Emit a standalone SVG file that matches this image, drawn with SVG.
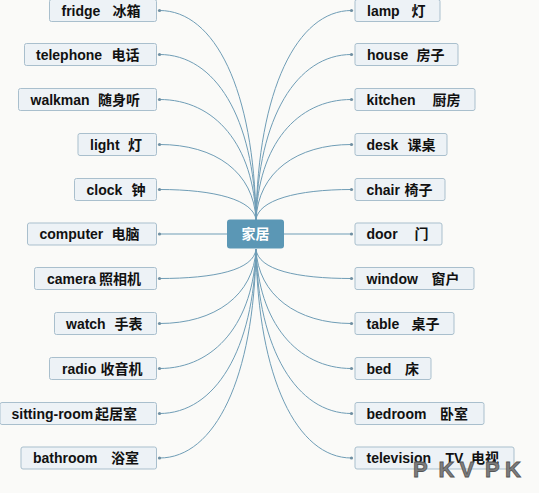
<svg xmlns="http://www.w3.org/2000/svg" width="539" height="493" viewBox="0 0 539 493">
<style>
.bg{fill:#fafaf8}
.box{fill:#edf2f6;stroke:#a9bfcd;stroke-width:1}
.t{font-family:"Liberation Sans","Noto Sans CJK SC",sans-serif;font-size:14px;font-weight:bold;fill:#111}
.c{font-family:"Noto Sans CJK SC","Liberation Sans",sans-serif;font-size:14px;font-weight:bold}
.ln{fill:none;stroke:#6f9db6;stroke-width:1}
.dot{fill:#6f8fa2}
.center{fill:#5b97b5}
.ct{font-family:"Noto Sans CJK SC","Liberation Sans",sans-serif;font-size:14px;font-weight:bold;fill:#fff}
.wm{font-family:"Liberation Sans",sans-serif;font-size:22px;font-weight:bold;fill:#7d7d7d;stroke:#555;stroke-width:0.8}
</style>
<rect class="bg" x="0" y="0" width="539" height="493"/>
<g id="connectors">
<path class="ln" d="M159.5,10.5 C215,10.5 254,90 256,220"/>
<path class="ln" d="M159.5,54.5 C215,54.5 254,117 256,220"/>
<path class="ln" d="M159.5,99.5 C215,99.5 254,145 256,220"/>
<path class="ln" d="M159.5,144.5 C215,144.5 254,172 256,220"/>
<path class="ln" d="M159.5,189.5 C215,189.5 254,200 256,220"/>
<path class="ln" d="M159.5,234 L227,234"/>
<path class="ln" d="M159.5,278.5 C215,278.5 254,270 256,249"/>
<path class="ln" d="M159.5,323.5 C215,323.5 254,295 256,249"/>
<path class="ln" d="M159.5,368.5 C215,368.5 254,322 256,249"/>
<path class="ln" d="M159.5,413.5 C215,413.5 254,350 256,249"/>
<path class="ln" d="M159.5,458 C215,458 254,378 256,249"/>
<path class="ln" d="M351.5,10.5 C297,10.5 258,90 256,220"/>
<path class="ln" d="M351.5,54.5 C297,54.5 258,117 256,220"/>
<path class="ln" d="M351.5,99.5 C297,99.5 258,145 256,220"/>
<path class="ln" d="M351.5,144.5 C297,144.5 258,172 256,220"/>
<path class="ln" d="M351.5,189.5 C297,189.5 258,200 256,220"/>
<path class="ln" d="M284,234 L351.5,234"/>
<path class="ln" d="M351.5,278.5 C297,278.5 258,270 256,249"/>
<path class="ln" d="M351.5,323.5 C297,323.5 258,295 256,249"/>
<path class="ln" d="M351.5,368.5 C297,368.5 258,322 256,249"/>
<path class="ln" d="M351.5,413.5 C297,413.5 258,350 256,249"/>
<path class="ln" d="M351.5,458 C297,458 258,378 256,249"/>
<g>
<circle class="dot" cx="159.5" cy="10.5" r="1.6"/><circle class="dot" cx="159.5" cy="54.5" r="1.6"/><circle class="dot" cx="159.5" cy="99.5" r="1.6"/><circle class="dot" cx="159.5" cy="144.5" r="1.6"/><circle class="dot" cx="159.5" cy="189.5" r="1.6"/><circle class="dot" cx="159.5" cy="234" r="1.6"/><circle class="dot" cx="159.5" cy="278.5" r="1.6"/><circle class="dot" cx="159.5" cy="323.5" r="1.6"/><circle class="dot" cx="159.5" cy="368.5" r="1.6"/><circle class="dot" cx="159.5" cy="413.5" r="1.6"/><circle class="dot" cx="159.5" cy="458" r="1.6"/>
<circle class="dot" cx="351.5" cy="10.5" r="1.6"/><circle class="dot" cx="351.5" cy="54.5" r="1.6"/><circle class="dot" cx="351.5" cy="99.5" r="1.6"/><circle class="dot" cx="351.5" cy="144.5" r="1.6"/><circle class="dot" cx="351.5" cy="189.5" r="1.6"/><circle class="dot" cx="351.5" cy="234" r="1.6"/><circle class="dot" cx="351.5" cy="278.5" r="1.6"/><circle class="dot" cx="351.5" cy="323.5" r="1.6"/><circle class="dot" cx="351.5" cy="368.5" r="1.6"/><circle class="dot" cx="351.5" cy="413.5" r="1.6"/><circle class="dot" cx="351.5" cy="458" r="1.6"/>
</g>
</g>
<g id="center">
<rect class="center" x="227" y="219.5" width="57" height="29" rx="3"/>
<text class="ct" x="255.5" y="239" text-anchor="middle">家居</text>
</g>
<g id="fridge"><rect class="box" x="49.5" y="-0.5" width="107" height="22" rx="2"/><text class="t" x="61.5" y="15.5">fridge <tspan class="c" x="112.5">冰箱</tspan></text></g>
<g id="telephone"><rect class="box" x="24.5" y="43.5" width="132" height="22" rx="2"/><text class="t" x="36" y="59.5">telephone <tspan class="c" x="111.5">电话</tspan></text></g>
<g id="walkman"><rect class="box" x="18.5" y="88.5" width="138" height="22" rx="2"/><text class="t" x="30.5" y="104.5">walkman <tspan class="c" x="98">随身听</tspan></text></g>
<g id="light"><rect class="box" x="78" y="133.5" width="78.5" height="22" rx="2"/><text class="t" x="90" y="149.5">light <tspan class="c" x="128">灯</tspan></text></g>
<g id="clock"><rect class="box" x="74.5" y="178.5" width="82" height="22" rx="2"/><text class="t" x="86.5" y="194.5">clock <tspan class="c" x="131.5">钟</tspan></text></g>
<g id="computer"><rect class="box" x="27.5" y="223" width="129" height="22" rx="2"/><text class="t" x="39.5" y="239">computer <tspan class="c" x="111.5">电脑</tspan></text></g>
<g id="camera"><rect class="box" x="34.5" y="267.5" width="122" height="22" rx="2"/><text class="t" x="47" y="283.5">camera <tspan class="c" x="99">照相机</tspan></text></g>
<g id="watch"><rect class="box" x="54.5" y="312.5" width="102" height="22" rx="2"/><text class="t" x="66" y="328.5">watch <tspan class="c" x="114.5">手表</tspan></text></g>
<g id="radio"><rect class="box" x="49.5" y="357.5" width="107" height="22" rx="2"/><text class="t" x="62" y="373.5">radio <tspan class="c" x="100.5">收音机</tspan></text></g>
<g id="sitting-room"><rect class="box" x="0" y="402.5" width="156.5" height="22" rx="2"/><text class="t" x="11.5" y="418.5">sitting-room<tspan class="c" x="95">起居室</tspan></text></g>
<g id="bathroom"><rect class="box" x="21" y="447" width="135.5" height="22" rx="2"/><text class="t" x="33" y="463">bathroom <tspan class="c" x="111">浴室</tspan></text></g>
<g id="lamp"><rect class="box" x="355" y="-0.5" width="85" height="22" rx="2"/><text class="t" x="367" y="15.5">lamp <tspan class="c" x="411.5">灯</tspan></text></g>
<g id="house"><rect class="box" x="355" y="43.5" width="103" height="22" rx="2"/><text class="t" x="367" y="59.5">house <tspan class="c" x="416.5">房子</tspan></text></g>
<g id="kitchen"><rect class="box" x="355" y="88.5" width="120" height="22" rx="2"/><text class="t" x="366.5" y="104.5">kitchen <tspan class="c" x="432.5">厨房</tspan></text></g>
<g id="desk"><rect class="box" x="355" y="133.5" width="92" height="22" rx="2"/><text class="t" x="366.5" y="149.5">desk <tspan class="c" x="407.5">课桌</tspan></text></g>
<g id="chair"><rect class="box" x="355" y="178.5" width="90" height="22" rx="2"/><text class="t" x="366.5" y="194.5">chair <tspan class="c" x="404.5">椅子</tspan></text></g>
<g id="door"><rect class="box" x="355" y="223" width="87" height="22" rx="2"/><text class="t" x="366.5" y="239">door <tspan class="c" x="414.5">门</tspan></text></g>
<g id="window"><rect class="box" x="355" y="267.5" width="119" height="22" rx="2"/><text class="t" x="366.5" y="283.5">window <tspan class="c" x="431.5">窗户</tspan></text></g>
<g id="table"><rect class="box" x="355" y="312.5" width="99" height="22" rx="2"/><text class="t" x="366.5" y="328.5">table <tspan class="c" x="411.5">桌子</tspan></text></g>
<g id="bed"><rect class="box" x="355" y="357.5" width="76" height="22" rx="2"/><text class="t" x="366.5" y="373.5">bed <tspan class="c" x="405">床</tspan></text></g>
<g id="bedroom"><rect class="box" x="355" y="402.5" width="129" height="22" rx="2"/><text class="t" x="366.5" y="418.5">bedroom <tspan class="c" x="440">卧室</tspan></text></g>
<g id="television"><rect class="box" x="355" y="447" width="159" height="22" rx="2"/><text class="t" x="366.5" y="463">television <tspan x="445.5">TV </tspan><tspan class="c" x="471">电视</tspan></text></g>
<text class="wm" y="477" x="413 438.5 459.5 485 505">PKVPK</text>
</svg>
